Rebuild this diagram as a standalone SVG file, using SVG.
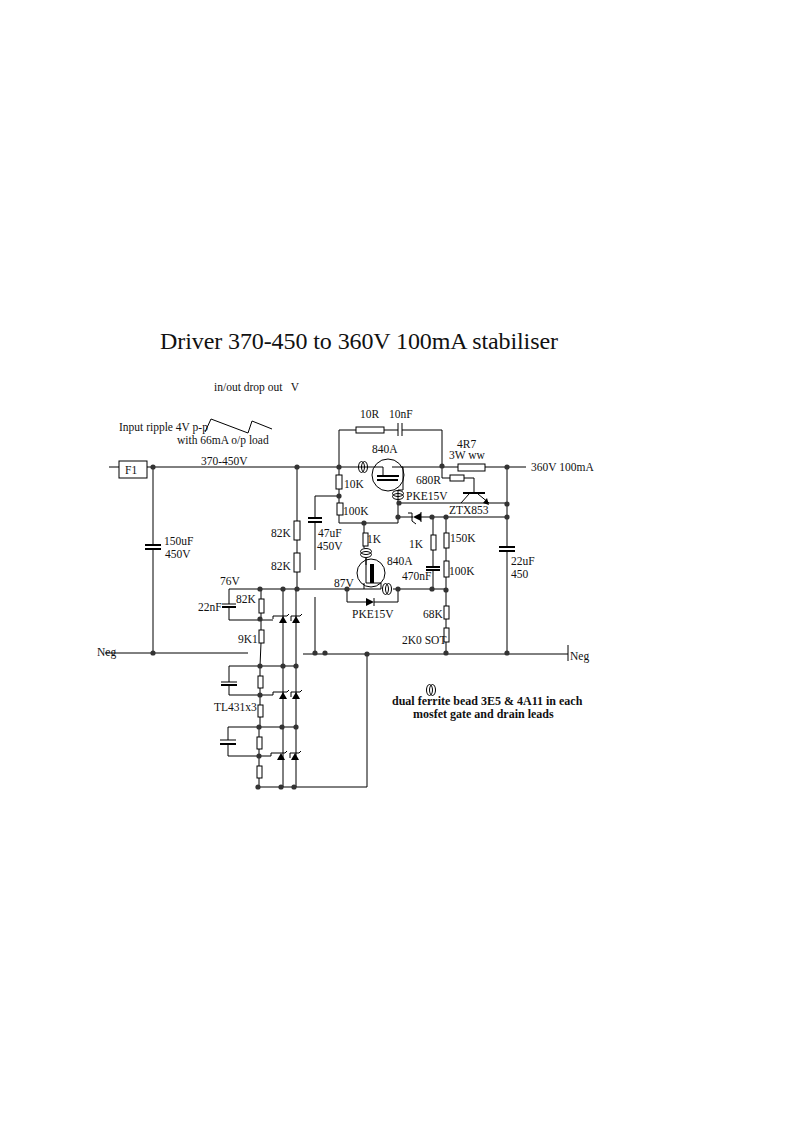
<svg xmlns="http://www.w3.org/2000/svg" width="794" height="1123" viewBox="0 0 794 1123">
<defs>
<style>
text{font-family:"Liberation Serif","Times New Roman",serif;font-size:11.5px;fill:#111}
.t{font-size:24px}
.b{font-weight:bold;font-size:12px}
.w,.w *{fill:none;stroke:#000;stroke-width:1}
.r{fill:#fff;stroke:#000;stroke-width:1}
.n{fill:#333;stroke:none}
.f{fill:#000;stroke:none}
.th{fill:none;stroke:#000;stroke-width:2}
</style>
<circle id="dot" r="2.6" class="n"/>
<g id="bead"><ellipse cx="-1.5" cy="0" rx="3" ry="5.5" fill="none" stroke="#000"/><ellipse cx="1.5" cy="0" rx="3" ry="5.5" fill="none" stroke="#000"/></g>
<g id="beadv"><ellipse cx="0" cy="-1.5" rx="5.5" ry="3" fill="none" stroke="#000"/><ellipse cx="0" cy="1.5" rx="5.5" ry="3" fill="none" stroke="#000"/></g>
<g id="tl431"><path d="M-10 0V-3H4M4 -3l2 -2" fill="none" stroke="#000"/><path d="M-4 4L0 -3L4 4Z" class="f"/></g>
<g id="tl431b"><path d="M-5 2V-3H4M4 -3l2 -2" fill="none" stroke="#000"/><path d="M-4 4L0 -3L4 4Z" class="f"/></g>
</defs>
<rect width="794" height="1123" fill="#fff"/>
<text class="t" x="160" y="349" textLength="398">Driver 370-450 to 360V 100mA stabiliser</text>
<text x="214" y="391" xml:space="preserve">in/out drop out   V</text>
<text x="119" y="431">Input ripple 4V p-p</text>
<text x="177" y="444">with 66mA o/p load</text>
<text x="201" y="465">370-450V</text>
<text x="97" y="656">Neg</text>
<text x="570" y="660">Neg</text>
<text x="531" y="471">360V 100mA</text>
<text x="214" y="711">TL431x3</text>
<text x="220" y="585">76V</text>
<text x="334" y="587">87V</text>
<text class="b" x="392" y="705">dual ferrite bead 3E5 &amp; 4A11 in each</text>
<text class="b" x="413" y="718">mosfet gate and drain leads</text>
<g id="connectors" class="w">
<path d="M109 467H119M147 467H383M402 467H458M485 467H526"/>
<path d="M339 467V430H356M384 430H398M402 430H442V478H450M464 478H474V493"/>
<path d="M153 467V545M153 549V653M105 653H248M303 654H568M568 645V661"/>
<path d="M297 467V521M297 540V553M297 572V589M229 589H297M297 589H347H381M393 589H446"/>
<path d="M339 467V475M339 489V503M339 515V523H398V503M339 496H315V518M315 522V570M315 597V653"/>
<path d="M398 503H507M398 517H413M421 517H507M507 467V547M507 551V653"/>
<path d="M433 517V535M433 550V567M433 570V589M446 517V533M446 548V561M446 577V606M446 619V628M446 642V653"/>
<path d="M364 523V533M364 546V548M366 558V565M347 589V602H366M374 602H398V589"/>
<path d="M229 589V604M229 608V620H273M261 589V599M261 613V630M261 643L260 666M229 666H296M229 666V682M229 686V695H273M260 666V676M260 688V705M260 717V727M228 727H296M228 727V740M228 745V756H271M259 727V737M259 749V766M259 778V787H367V654"/>
<path d="M283 589V787M296 589V787"/>
<path d="M205 432L211 419L248 433L252 421L272 429"/>
</g>
<g id="F1"><rect class="r" x="119" y="461" width="28" height="17"/><text x="125" y="474">F1</text></g>
<g id="C150uF"><path class="th" d="M145 545H161M145 549H161"/><text x="164" y="545">150uF</text><text x="165" y="558">450V</text></g>
<g id="R82K_1"><rect class="r" x="294" y="521" width="6" height="19"/><text x="271" y="537">82K</text></g>
<g id="R82K_2"><rect class="r" x="294" y="553" width="6" height="19"/><text x="271" y="570">82K</text></g>
<g id="C47uF"><path class="th" d="M308 518H322M308 522H322"/><text x="318" y="537">47uF</text><text x="317" y="550">450V</text></g>
<g id="R10R"><rect class="r" x="356" y="427" width="28" height="6"/><text x="360" y="418">10R</text></g>
<g id="C10nF"><path class="w" d="M398 423V436M402 423V436"/><text x="389" y="418">10nF</text></g>
<g id="R10K"><rect class="r" x="336" y="475" width="6" height="14"/><text x="344" y="488">10K</text></g>
<g id="R100K_a"><rect class="r" x="337" y="503" width="6" height="12"/><text x="343" y="515">100K</text></g>
<g id="Q840A_top">
<circle cx="388" cy="475" r="16" fill="none" stroke="#000"/>
<path class="th" d="M377 476H399M377 480H398"/>
<path class="w" d="M383 467V476M403 467V490H398V503M392 467H403"/>
<use href="#bead" x="363" y="467"/><use href="#beadv" x="398" y="495"/>
<text x="372" y="453">840A</text><text x="406" y="500">PKE15V</text>
</g>
<g id="R4R7"><rect class="r" x="458" y="464" width="27" height="7"/><text x="457" y="448">4R7</text><text x="449" y="459">3W ww</text></g>
<g id="R680R"><rect class="r" x="450" y="475" width="14" height="6"/><text x="416" y="484">680R</text></g>
<g id="QZTX853"><path class="th" d="M463 493H485"/><path class="w" d="M469 494L461 503M478 494L489 503"/><path class="f" d="M489 505L483 503L487 498Z"/><text x="449" y="514">ZTX853</text></g>
<g id="DZ_a"><path class="f" d="M413 517L421 513V521Z"/><path class="w" d="M408 513H412V521L416 524M421 512V522"/></g>
<g id="R1K_a"><rect class="r" x="363" y="533" width="5" height="13"/><text x="367" y="543">1K</text></g>
<g id="Q840A_low">
<circle cx="371" cy="573" r="14" fill="none" stroke="#000"/>
<use href="#beadv" x="366" y="553"/>
<rect x="370" y="564" width="4" height="19" class="f"/>
<path class="w" d="M366 558V583M366 583H381V589M364 583V589"/>
<use href="#bead" x="387" y="589"/>
<text x="387" y="565">840A</text>
</g>
<g id="DZ_b"><path class="f" d="M366 598V606L374 602Z"/><path class="w" d="M374 598V606"/><text x="352" y="618">PKE15V</text></g>
<g id="R1K_b"><rect class="r" x="431" y="535" width="5" height="15"/><text x="409" y="548">1K</text></g>
<g id="C470nF"><path class="th" d="M426 567H440M426 570H440"/><text x="402" y="580">470nF</text></g>
<g id="R150K"><rect class="r" x="444" y="533" width="5" height="15"/><text x="450" y="542">150K</text></g>
<g id="R100K_b"><rect class="r" x="444" y="561" width="5" height="16"/><text x="449" y="575">100K</text></g>
<g id="R68K"><rect class="r" x="444" y="606" width="5" height="13"/><text x="423" y="618">68K</text></g>
<g id="R2K0"><rect class="r" x="444" y="628" width="5" height="14"/><text x="402" y="644">2K0 SOT</text></g>
<g id="C22uF"><path class="th" d="M499 547H515M499 551H515"/><text x="511" y="565">22uF</text><text x="511" y="578">450</text></g>
<g id="stage1">
<path class="w" d="M222 604H236"/><path class="th" d="M222 607H236"/>
<rect class="r" x="259" y="599" width="5" height="14"/><rect class="r" x="259" y="630" width="5" height="13"/>
<use href="#tl431" x="283" y="619"/><use href="#tl431b" x="296" y="619"/>
<text x="198" y="611">22nF</text><text x="236" y="603">82K</text><text x="238" y="643">9K1</text>
</g>
<g id="stage2">
<path class="w" d="M221 682H237"/><path class="th" d="M221 685H237"/>
<rect class="r" x="258" y="676" width="5" height="12"/><rect class="r" x="258" y="705" width="5" height="12"/>
<use href="#tl431" x="283" y="695"/><use href="#tl431b" x="296" y="695"/>
</g>
<g id="stage3">
<path class="w" d="M220 740H236"/><path class="th" d="M220 744H236"/>
<rect class="r" x="257" y="737" width="5" height="12"/><rect class="r" x="257" y="766" width="5" height="12"/>
<use href="#tl431" x="281" y="756"/><use href="#tl431b" x="295" y="756"/>
</g>
<g id="bead_legend"><use href="#bead" x="431" y="690"/></g>
<g id="junctions">
<use href="#dot" x="153" y="467"/><use href="#dot" x="297" y="467"/><use href="#dot" x="339" y="467"/><use href="#dot" x="442" y="466"/><use href="#dot" x="507" y="467"/>
<use href="#dot" x="339" y="496"/><use href="#dot" x="399" y="503"/><use href="#dot" x="507" y="504"/><use href="#dot" x="398" y="517"/><use href="#dot" x="432" y="517"/><use href="#dot" x="446" y="517"/><use href="#dot" x="507" y="517"/><use href="#dot" x="364" y="523"/>
<use href="#dot" x="297" y="589"/><use href="#dot" x="347" y="589"/><use href="#dot" x="398" y="589"/><use href="#dot" x="432" y="589"/><use href="#dot" x="446" y="590"/>
<use href="#dot" x="153" y="653"/><use href="#dot" x="315" y="653"/><use href="#dot" x="325" y="653"/><use href="#dot" x="367" y="654"/><use href="#dot" x="446" y="653"/><use href="#dot" x="507" y="653"/>
<use href="#dot" x="260" y="589"/><use href="#dot" x="283" y="589"/><use href="#dot" x="260" y="619"/><use href="#dot" x="260" y="666"/><use href="#dot" x="283" y="666"/><use href="#dot" x="296" y="666"/>
<use href="#dot" x="260" y="695"/><use href="#dot" x="259" y="727"/><use href="#dot" x="282" y="727"/><use href="#dot" x="296" y="727"/><use href="#dot" x="259" y="756"/><use href="#dot" x="258" y="787"/><use href="#dot" x="281" y="787"/><use href="#dot" x="294" y="787"/>
</g>
</svg>
